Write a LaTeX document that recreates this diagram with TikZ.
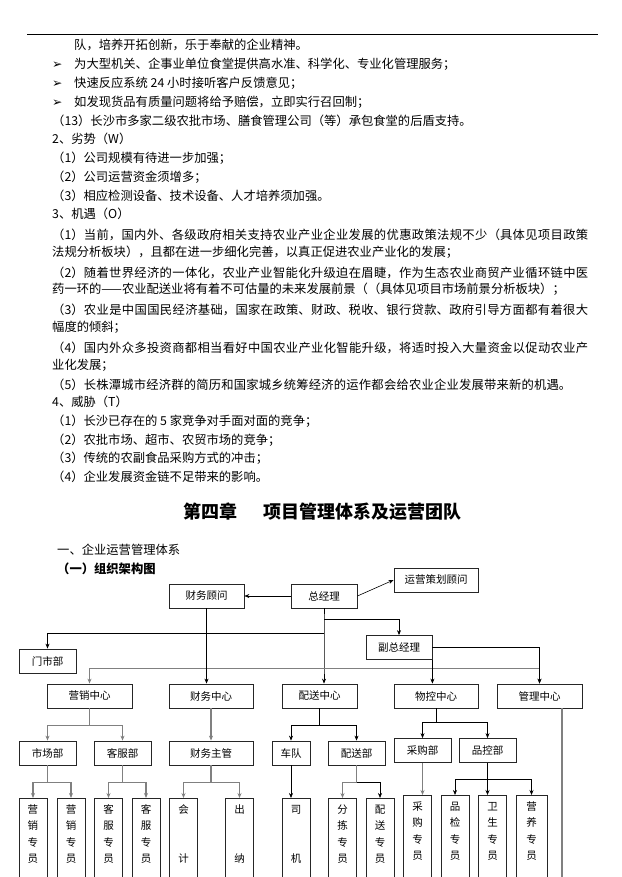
\documentclass[tikz,border=0pt]{standalone}
\usepackage{fontspec}
\setmainfont{Noto Sans CJK SC}
\newfontfamily\symf{DejaVu Sans}
\usetikzlibrary{arrows.meta}
\XeTeXlinebreaklocale "zh"
\XeTeXlinebreakskip=0pt plus 1pt
\newcommand\bodysize{\fontsize{12.3}{14}\selectfont}
\newcommand\chartsize{\fontsize{10.5}{16.5}\selectfont}
\newcommand\fullline[2][536pt]{\parbox{#1}{\parfillskip=0pt #2}}
\newcommand\vlabel[1]{\parbox[t]{12pt}{\centering #1}}
\newcommand\bul{\makebox[22pt][l]{\symf ➢}}

\begin{document}
\begin{tikzpicture}[x=1pt,y=-1pt,>={Stealth[length=5pt,width=4pt]},font=\bodysize,
  txt/.style={anchor=west,inner sep=0pt,text height=10.7pt,text depth=1.5pt},
  box/.style={draw=black!85,line width=0.8pt,inner sep=0pt,minimum height=24pt,font=\chartsize},
  staff/.style={draw=black!85,line width=0.8pt,anchor=north,minimum width=28pt,inner xsep=0pt,
    inner ysep=6pt,text height=9pt,text depth=90pt,font=\chartsize},
  ln/.style={line width=0.6pt},
  gl/.style={draw=black!50,line width=1.1pt}]
\useasboundingbox (0,0) rectangle (621,877);
\clip (0,0) rectangle (621,877);

\draw[line width=0.6pt] (27,34) -- (598,34);

% text above the chart
\node[txt] (p1) at (74,45) {队，培养开拓创新，乐于奉献的企业精神。};
\node[txt] (p2) at (52,64) {\bul 为大型机关、企事业单位食堂提供高水准、科学化、专业化管理服务；};
\node[txt] (p3) at (52,83) {\bul 快速反应系统 24 小时接听客户反馈意见；};
\node[txt] (p4) at (52,102) {\bul 如发现货品有质量问题将给予赔偿，立即实行召回制；};
\node[txt] (p5) at (52,121) {（13）长沙市多家二级农批市场、膳食管理公司（等）承包食堂的后盾支持。};
\node[txt] (w0) at (52,139) {2、劣势（W）};
\node[txt] (w1) at (52,158) {（1）公司规模有待进一步加强；};
\node[txt] (w2) at (52,177) {（2）公司运营资金须增多；};
\node[txt] (w3) at (52,196) {（3）相应检测设备、技术设备、人才培养须加强。};
\node[txt] (o0) at (52,214) {3、机遇（O）};
\node[txt] (o1) at (52,233) {\fullline{（1）当前，国内外、各级政府相关支持农业产业企业发展的优惠政策法规不少（具体见项目政策}};
\node[txt] (o1b) at (52,252) {法规分析板块），且都在进一步细化完善，以真正促进农业产业化的发展；};
\node[txt] (o2) at (52,271) {\fullline{（2）随着世界经济的一体化，农业产业智能化升级迫在眉睫，作为生态农业商贸产业循环链中医}};
\node[txt] (o2b) at (52,289) {药一环的——农业配送业将有着不可估量的未来发展前景（（具体见项目市场前景分析板块）；};
\node[txt] (o3) at (52,308) {\fullline{（3）农业是中国国民经济基础，国家在政策、财政、税收、银行贷款、政府引导方面都有着很大}};
\node[txt] (o3b) at (52,327) {幅度的倾斜；};
\node[txt] (o4) at (52,346) {\fullline{（4）国内外众多投资商都相当看好中国农业产业化智能升级，将适时投入大量资金以促动农业产}};
\node[txt] (o4b) at (52,365) {业化发展；};
\node[txt] (o5) at (52,383) {\fullline[519pt]{（5）长株潭城市经济群的简历和国家城乡统筹经济的运作都会给农业企业发展带来新的机遇。}};
\node[txt] (t0) at (52,402) {4、威胁（T）};
\node[txt] (t1) at (52,421) {（1）长沙已存在的 5 家竞争对手面对面的竞争；};
\node[txt] (t2) at (52,440) {（2）农批市场、超市、农贸市场的竞争；};
\node[txt] (t3) at (52,458) {（3）传统的农副食品采购方式的冲击；};
\node[txt] (t4) at (52,477) {（4）企业发展资金链不足带来的影响。};

\node[font=\fontsize{18}{20}\selectfont\bfseries] (ttl) at (322.5,512) {第四章\hspace{26pt}项目管理体系及运营团队};
\node[txt] (sec) at (57,550) {一、企业运营管理体系};
\node[txt,font=\bodysize\bfseries] (sub) at (57,569) {（一）组织架构图};

% org chart
\node[box,minimum width=75pt] (gw) at (206.5,596) {财务顾问};
\node[box,minimum width=66pt] (zjl) at (324,596) {总经理};
\node[box,minimum width=84pt] (yycg) at (436,580) {运营策划顾问};
\node[box,minimum width=66pt] (fzjl) at (399,647.5) {副总经理};
\node[box,minimum width=57pt] (msb) at (47.5,661) {门市部};
\node[box,minimum width=85pt] (yxzx) at (89.5,696) {营销中心};
\node[box,minimum width=84pt] (cwzx) at (211,696) {财务中心};
\node[box,minimum width=75pt] (pszx) at (319.5,696) {配送中心};
\node[box,minimum width=84pt] (wkzx) at (436,696) {物控中心};
\node[box,minimum width=85pt] (glzx) at (539.5,696) {管理中心};
\node[box,minimum width=57pt] (scb) at (47.5,753) {市场部};
\node[box,minimum width=57pt] (kfb) at (122.5,753) {客服部};
\node[box,minimum width=84pt] (cwzg) at (211,753) {财务主管};
\node[box,minimum width=38pt] (cd) at (291,753) {车队};
\node[box,minimum width=57pt] (psb) at (356.5,753) {配送部};
\node[box,minimum width=57pt] (cgb) at (422.5,750.5) {采购部};
\node[box,minimum width=57pt] (pkb) at (487.5,750.5) {品控部};

\node[staff] (yx1) at (33,798) {\vlabel{营\\销\\专\\员}};
\node[staff] (yx2) at (71,798) {\vlabel{营\\销\\专\\员}};
\node[staff] (kf1) at (108.5,798) {\vlabel{客\\服\\专\\员}};
\node[staff] (kf2) at (146,798) {\vlabel{客\\服\\专\\员}};
\node[staff] (kj) at (183.5,798) {\vlabel{会\\[33pt]计}};
\node[staff] (cn) at (239.5,798) {\vlabel{出\\[33pt]纳}};
\node[staff] (sj) at (296,798) {\vlabel{司\\[33pt]机}};
\node[staff] (fj) at (342.5,798) {\vlabel{分\\拣\\专\\员}};
\node[staff] (pszy) at (380,798) {\vlabel{配\\送\\专\\员}};
\node[staff] (cg) at (417.5,795) {\vlabel{采\\购\\专\\员}};
\node[staff] (pj) at (455,795) {\vlabel{品\\检\\专\\员}};
\node[staff] (ws) at (492.5,795) {\vlabel{卫\\生\\专\\员}};
\node[staff,minimum width=31pt] (yy) at (531.5,795) {\vlabel{营\\养\\专\\员}};
\coordinate (glend) at (562,880);

\draw[ln,->] (zjl.west) -- (gw.east);
\draw[ln,->] (zjl.east) -- (yycg.west);
\draw[ln,->] (zjl.south) -- ++(0,11) coordinate (z1) -- ++(0,14) coordinate (z2)
  -- ++(0,35) coordinate (z3) -- (zjl.south |- pszx.north);
\draw[ln,->] (z1) -| (fzjl.north);
\draw[ln,->] (z2) -| (msb.north);
\draw[gl,->] (z3) -| (yxzx.north);
\draw[gl,->] (z3) -| (glzx.north);
\draw[ln,->] (gw.south) -- (gw.south |- cwzx.north);
\draw[ln,->] (fzjl.east) -| (glzx.north);
\draw[ln,->] (fzjl.south east) -- (fzjl.south east |- wkzx.north);

\draw[gl] (yxzx.south) -- ++(0,17) coordinate (a1);
\draw[gl,->] (a1) -| (scb.north);
\draw[gl,->] (a1) -| (kfb.north);
\draw[gl] (scb.south) -- ++(0,17) coordinate (a2);
\draw[gl,->] (a2) -| (yx1.north);
\draw[gl,->] (a2) -| (yx2.north);
\draw[gl] (kfb.south) -- ++(0,17) coordinate (a3);
\draw[gl,->] (a3) -| (kf1.north);
\draw[gl,->] (a3) -| (kf2.north);
\draw[gl,->] (cwzx.south) -- (cwzg.north);
\draw[gl] (cwzg.south) -- ++(0,17) coordinate (a4);
\draw[gl,->] (a4) -| (kj.north);
\draw[gl,->] (a4) -| (cn.north);
\draw[ln] (pszx.south) -- ++(0,17) coordinate (a5);
\draw[ln,->] (a5) -| (cd.north);
\draw[ln,->] (a5) -| (psb.north);
\draw[ln,->] (cd.south) -- (cd.south |- sj.north);
\draw[gl] (psb.south) -- ++(0,17) coordinate (a6);
\draw[gl,->] (a6) -| (fj.north);
\draw[ln,->] (a6) -| (pszy.north);
\draw[ln] (wkzx.south) -- ++(0,14) coordinate (a7);
\draw[ln,->] (a7) -| (cgb.north);
\draw[ln,->] (a7) -| (pkb.north);
\draw[gl,->] (cgb.south) -- (cgb.south |- cg.north);
\draw[ln,->] (pkb.south) -- (pkb.south |- ws.north);
\coordinate (a8) at ([yshift=-16pt]pkb.south);
\draw[ln,->] (a8) -| (pj.north);
\draw[ln,->] (a8) -| (yy.north);
\draw[gl] (glzx.south -| glend) -- (glend);
\end{tikzpicture}
\end{document}
